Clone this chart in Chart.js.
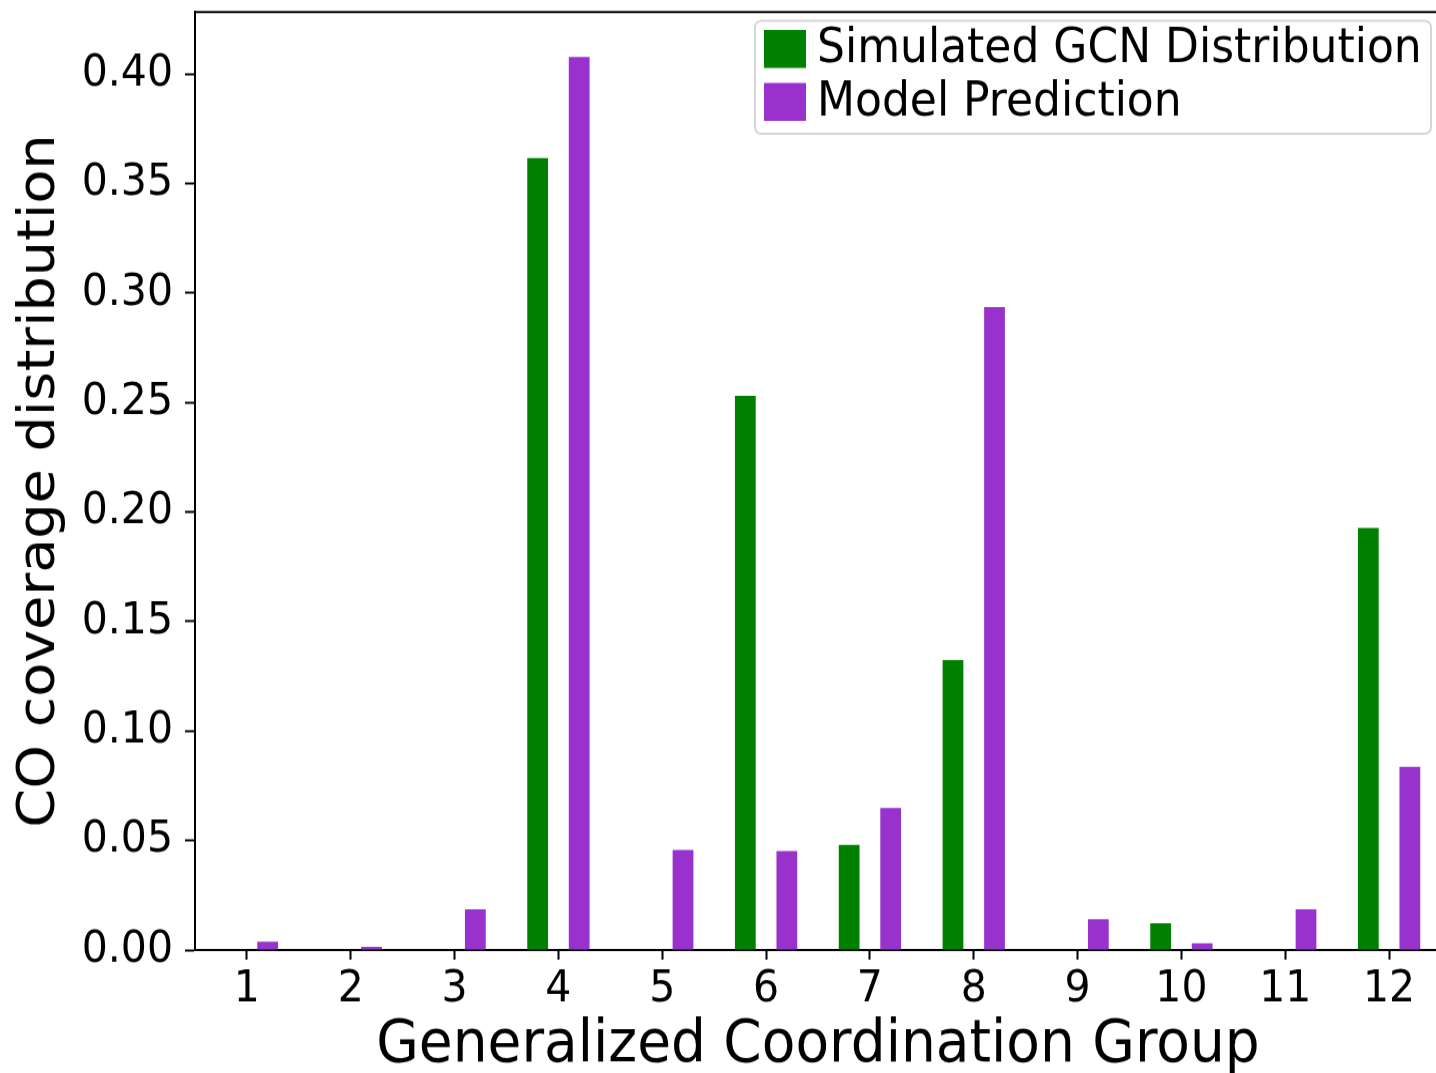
<!DOCTYPE html>
<html>
<head>
<meta charset="utf-8">
<script src="https://cdn.jsdelivr.net/npm/chart.js@4.4.1/dist/chart.umd.min.js"></script>
<style>
  html, body { margin: 0; padding: 0; background: #fff; overflow: hidden; }
  #wrap { width: 1436px; height: 1073px; overflow: hidden; }
  /* the figure is drawn slightly squashed and stretched back vertically */
  #inner { width: 1446px; height: 1011px; transform: scaleY(1.0698); transform-origin: 0 0; }
</style>
</head>
<body>
<div id="wrap"><div id="inner"><canvas id="gcnChart" width="1446" height="1011"></canvas></div></div>
<script>
// Coordination groups and the two distributions
const groups = ['1', '2', '3', '4', '5', '6', '7', '8', '9', '10', '11', '12'];
const simulated = [0, 0, 0, 0.3616, 0, 0.253, 0.048, 0.1324, 0, 0.0122, 0, 0.1927];
const predicted = [0.0038, 0.0015, 0.0186, 0.4078, 0.0457, 0.0452, 0.0648, 0.2936, 0.014, 0.0031, 0.0186, 0.0836];
const yTicks = [0, 0.05, 0.10, 0.15, 0.20, 0.25, 0.30, 0.35, 0.40];

const FONT = 'DejaVu Sans';
const GREEN = '#008000';
const PURPLE = '#9932cc';

// Top spine plus legend box in the upper right
const extras = {
    id: 'extras',
    afterDraw(chart) {
        const ctx = chart.ctx;
        const area = chart.chartArea;
        ctx.save();
        ctx.strokeStyle = '#000';
        ctx.lineWidth = 2;
        ctx.beginPath();
        ctx.moveTo(area.left - 1, area.top);
        ctx.lineTo(area.right, area.top);
        ctx.stroke();

        // legend frame
        const lx = 755, ly = 19.5, lw = 676, lh = 105.5;
        ctx.fillStyle = 'rgba(255,255,255,0.8)';
        ctx.strokeStyle = '#d6d6d6';
        ctx.lineWidth = 2;
        ctx.beginPath();
        ctx.roundRect(lx, ly, lw, lh, 6);
        ctx.fill();
        ctx.stroke();

        const items = [
            { label: 'Simulated GCN Distribution', color: GREEN },
            { label: 'Model Prediction', color: PURPLE }
        ];
        ctx.font = '44px "' + FONT + '"';
        ctx.textBaseline = 'middle';
        items.forEach((it, i) => {
            const y = 45.8 + i * 49.5;
            ctx.fillStyle = it.color;
            ctx.fillRect(764, y - 17.8, 42, 35.5);
            ctx.fillStyle = '#000';
            ctx.fillText(it.label, 817, y + 1);
        });
        ctx.restore();
    }
};

const ctx = document.getElementById('gcnChart').getContext('2d');
new Chart(ctx, {
    type: 'bar',
    data: {
        labels: groups,
        datasets: [
            { label: 'Simulated GCN Distribution', data: simulated, backgroundColor: GREEN },
            { label: 'Model Prediction', data: predicted, backgroundColor: PURPLE }
        ]
    },
    options: {
        responsive: false,
        animation: false,
        devicePixelRatio: 1,
        categoryPercentage: 0.8,
        barPercentage: 0.5,
        layout: { padding: { top: 11.2, left: 0, right: 5, bottom: 0 } },
        plugins: {
            legend: { display: false },
            tooltip: { enabled: false }
        },
        scales: {
            x: {
                grid: { offset: false, drawOnChartArea: false, drawTicks: true, tickLength: 9, tickWidth: 2, tickColor: '#000' },
                border: { color: '#000', width: 2 },
                ticks: { color: '#000', font: { family: FONT, size: 41 }, padding: 4, maxRotation: 0 },
                title: {
                    display: true,
                    text: 'Generalized Coordination Group',
                    color: '#000',
                    font: { family: FONT, size: 55 },
                    padding: { top: 12, bottom: 0 }
                },
                afterFit(scale) {
                    scale.height = 123;
                    scale.paddingLeft = 0;
                    scale.paddingRight = 0;
                }
            },
            y: {
                min: 0,
                max: 0.4283,
                grid: { drawOnChartArea: false, drawTicks: true, tickLength: 10, tickWidth: 2, tickColor: '#000' },
                border: { color: '#000', width: 2 },
                ticks: {
                    color: '#000',
                    font: { family: FONT, size: 41 },
                    padding: 12,
                    callback: v => v.toFixed(2)
                },
                afterBuildTicks(scale) {
                    scale.ticks = yTicks.map(v => ({ value: v }));
                },
                title: {
                    display: true,
                    text: 'CO coverage distribution',
                    color: '#000',
                    font: { family: FONT, size: 52 },
                    padding: { top: 9, bottom: 8 }
                },
                afterFit(scale) {
                    scale.width = 195;
                    scale.paddingTop = 0;
                    scale.paddingBottom = 0;
                }
            }
        }
    },
    plugins: [extras]
});
</script>
</body>
</html>
